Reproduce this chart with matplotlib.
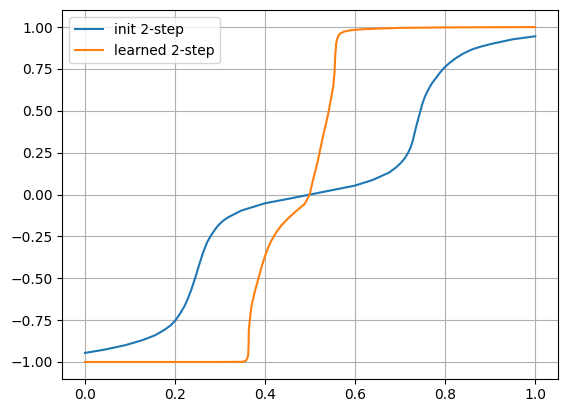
import matplotlib
matplotlib.use("Agg")
import matplotlib.pyplot as plt

# init 2-step curve
init_x = [0.0, 0.044, 0.089, 0.126, 0.14, 0.155, 0.165, 0.177, 0.19, 0.201, 0.211, 0.222,
          0.2295, 0.2365, 0.2445, 0.2535, 0.2625, 0.2715, 0.281, 0.288, 0.2956, 0.306,
          0.318, 0.347, 0.4, 0.451, 0.5, 0.543, 0.599, 0.639, 0.676, 0.69, 0.702, 0.71, 0.717,
          0.723, 0.728, 0.7345, 0.742, 0.749, 0.755, 0.761, 0.77, 0.78, 0.789, 0.798,
          0.81, 0.824, 0.84, 0.861, 0.88, 0.905, 0.95, 1.0]
init_y = [-0.946, -0.926, -0.900, -0.871, -0.857, -0.841, -0.826, -0.807, -0.782, -0.751, -0.712, -0.662,
          -0.615, -0.565, -0.50, -0.42, -0.345, -0.283, -0.24, -0.212, -0.185, -0.158,
          -0.136, -0.096, -0.052, -0.026, 0.0, 0.023, 0.053, 0.087, 0.132, 0.16, 0.19, 0.216, 0.246,
          0.28, 0.321, 0.395, 0.47, 0.54, 0.585, 0.619, 0.662, 0.698, 0.73, 0.757,
          0.787, 0.815, 0.842, 0.868, 0.884, 0.901, 0.927, 0.945]

# learned 2-step curve
learned_x = [0.0, 0.1, 0.2, 0.3, 0.35, 0.357, 0.361, 0.3625, 0.3635, 0.3638, 0.366,
             0.3695, 0.377, 0.384, 0.392, 0.4, 0.407, 0.414, 0.425, 0.436, 0.45, 0.466,
             0.488, 0.499, 0.506, 0.517, 0.528, 0.540, 0.551, 0.554, 0.556, 0.558, 0.562,
             0.567, 0.575, 0.59, 0.61, 0.65, 0.7, 0.8, 0.9, 1.0]
learned_y = [-1.0, -1.0, -1.0, -1.0, -0.999, -0.993, -0.975, -0.955, -0.88, -0.81, -0.75,
             -0.67, -0.58, -0.513, -0.434, -0.365, -0.315, -0.275, -0.225, -0.185, -0.145, -0.106,
             -0.056, 0.0, 0.083, 0.20, 0.34, 0.48, 0.64, 0.72, 0.84, 0.907, 0.945,
             0.962, 0.973, 0.981, 0.986, 0.991, 0.995, 0.998, 0.999, 1.0]

fig = plt.figure(figsize=(5.68, 4.13), dpi=100)
fig.subplots_adjust(left=0.11, right=0.982, top=0.975, bottom=0.083)
plt.plot(init_x, init_y, label="init 2-step")
plt.plot(learned_x, learned_y, label="learned 2-step")
plt.grid(True)
plt.legend(loc="upper left")
plt.savefig("out.png", dpi=100)
